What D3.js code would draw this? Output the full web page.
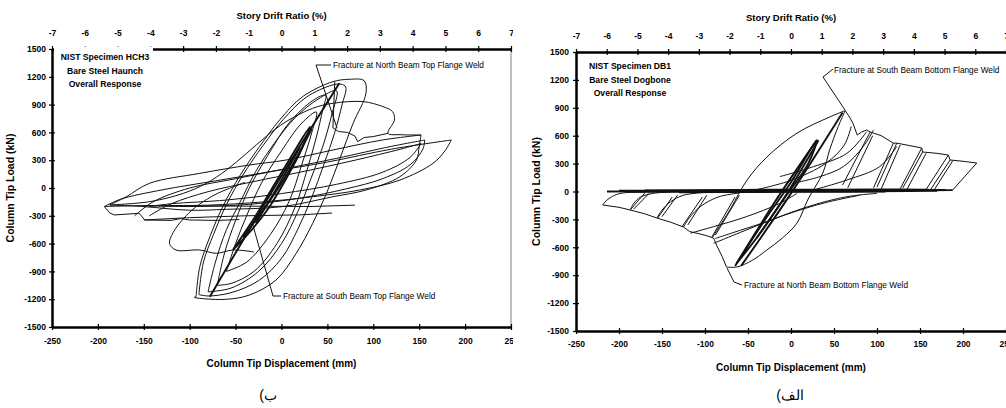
<!DOCTYPE html>
<html><head><meta charset="utf-8">
<script src="https://cdn.jsdelivr.net/npm/d3@7"></script>
<style>
html,body{margin:0;padding:0;background:#fff;}
svg{display:block;}
text{font-family:"Liberation Sans",Arial,sans-serif;fill:#000;}
</style></head><body>
<svg id="c" width="1006" height="408"></svg>
<script>
// ---------- shared axis data ----------
const dispTicks = [-250,-200,-150,-100,-50,0,50,100,150,200,250];
const loadTicks = [1500,1200,900,600,300,0,-300,-600,-900,-1200,-1500];
const driftTicks = [-7,-6,-5,-4,-3,-2,-1,0,1,2,3,4,5,6,7];
const titleTop = "Story Drift Ratio (%)";
const titleX = "Column Tip Displacement (mm)";
const titleY = "Column Tip Load (kN)";

// ---------- HCH3 (left) : [displacement mm, load kN] ----------
const hch3Info = ["NIST Specimen HCH3","Bare Steel Haunch","Overall Response"];
const hch3NoteTop = "Fracture at North Beam Top Flange Weld";
const hch3NoteBot = "Fracture at South Beam Top Flange Weld";
const hch3Caption = "(ب";
const hch3Big1 = [[-93,-1173],[-89,-849],[-78,-525],[-64,-201],[-46,122],[-24,446],[-2,734],[23,986],[56,1147],[74,1173],[90,1158],[92,1022],[78,698],[63,302],[49,-58],[34,-381],[16,-705],[-6,-993],[-35,-1155],[-60,-1201],[-89,-1191],[-95,-1180],[-93,-1173]];
const hch3Big2 = [[-90,-1150],[-85,-800],[-74,-500],[-60,-180],[-42,140],[-20,460],[2,740],[27,980],[55,1110],[65,1120],[70,1090],[66,900],[58,600],[46,250],[33,-100],[18,-440],[0,-760],[-25,-1000],[-55,-1130],[-80,-1165],[-90,-1150]];
const hch3Big3 = [[-80,-1120],[-72,-800],[-60,-450],[-45,-150],[-28,180],[-8,480],[15,760],[40,960],[60,1050],[55,800],[45,450],[32,100],[18,-250],[0,-600],[-25,-900],[-55,-1080],[-80,-1120]];
const hch3Mid1 = [[-70,-1050],[-62,-700],[-50,-350],[-35,0],[-15,350],[8,700],[35,950],[48,1000],[45,850],[38,550],[28,200],[15,-200],[-5,-600],[-30,-900],[-55,-1030],[-70,-1050]];
const hch3Mid2 = [[-60,-900],[-50,-600],[-38,-300],[-22,50],[0,400],[22,700],[38,820],[33,600],[22,250],[8,-150],[-12,-500],[-38,-800],[-60,-900]];
const hch3Frac = [[58,1145],[57,900],[56,650],[62,610],[72,600],[80,560],[83,500],[90,545],[100,555],[116,590]];
const hch3Reload = [[-187,-183],[-144,-148],[-107,-58],[-82,50],[-60,194],[-38,374],[-17,554],[5,716],[34,860],[56,914],[89,932],[110,880],[121,824],[123,734],[116,590],[130,575],[152,572]];
const hch3Up1 = [[-187,-183],[-169,-94],[-144,50],[-89,158],[-35,248],[5,302],[56,410],[110,518],[152,572]];
const hch3Up2 = [[-160,-300],[-140,-150],[-100,0],[-50,100],[0,200],[60,320],[120,450],[156,518]];
const hch3Up3 = [[-193,-200],[-175,-120],[-130,-20],[-70,80],[-10,180],[50,280],[120,420],[185,518]];
const hch3Up4 = [[-144,-300],[-120,-170],[-80,-40],[-30,70],[20,170],[80,300],[130,420],[152,480]];
const hch3Dn1 = [[152,572],[150,450],[147,302],[129,122],[92,-22],[56,-94],[1,-201],[-60,-230],[-100,-240],[-151,-200],[-187,-183]];
const hch3Dn2 = [[156,518],[154,420],[140,250],[110,100],[70,-10],[20,-110],[-40,-180],[-100,-200],[-150,-190]];
const hch3Dn3 = [[185,518],[178,400],[165,266],[129,86],[85,-22],[34,-94],[-20,-150],[-80,-185],[-151,-190],[-193,-200]];
const hch3Dn4 = [[152,480],[140,330],[110,170],[60,40],[0,-60],[-60,-130],[-120,-170],[-144,-200]];
const hch3Flat1 = [[-151,-190],[-50,-195],[30,-200],[80,-185]];
const hch3Flat2 = [[-150,-345],[-100,-320],[-40,-300],[20,-290],[55,-270]];
const hch3Wave1 = [[-193,-200],[-187,-270],[-182,-291],[-155,-273],[-149,-345],[-120,-350],[-110,-330],[-100,-345],[-70,-350],[-46,-340]];
const hch3Wave2 = [[-30,-690],[-53,-669],[-71,-705],[-89,-669],[-115,-669],[-122,-600],[-118,-480],[-104,-300],[-90,-180],[-70,-60],[-40,60]];
const hch3Thick1 = [[-78,-1173],[-8,0],[63,1130]];
const hch3Thick2 = [[-53,-669],[-30,-330],[-10,0],[10,330],[31,660],[22,420],[5,100],[-15,-230],[-35,-480],[-53,-669]];
const hch3Thick3 = [[-42,-530],[0,50],[33,640]];
const hch3Thick4 = [[-28,-380],[-5,0],[20,440]];

// ---------- DB1 (right) ----------
const db1Info = ["NIST Specimen DB1","Bare Steel Dogbone","Overall Response"];
const db1NoteTop = "Fracture at South Beam Bottom Flange Weld";
const db1NoteBot = "Fracture at North Beam Bottom Flange Weld";
const db1Caption = "(الف";
const db1Band1 = [[-214,0],[-150,2],[-80,4],[0,6],[80,8],[150,10],[188,14]];
const db1Band2 = [[-200,8],[-120,10],[-40,12],[40,14],[120,16],[180,18]];
const db1Band3 = [[-190,-5],[-100,-3],[-20,0],[60,2],[140,5],[170,8]];
const db1Band4 = [[-170,12],[-60,18],[20,20],[100,22],[160,20]];
const db1Band5 = [[-130,-8],[-50,-6],[30,-4],[110,0]];
const db1UpperS = [[-91,-489],[-80,-330],[-70,-180],[-51,124],[-28,371],[7,628],[45,801],[63,870]];
const db1LowerS = [[63,870],[55,700],[45,450],[37,199],[20,-80],[7,-339],[-10,-500],[-28,-629],[-45,-740],[-63,-812],[-75,-812]];
const db1PosEnv = [[63,870],[68,800],[72,735],[77,607],[82,640],[88,661],[92,640],[105,600],[119,520],[123,520],[137,495],[152,468],[153,425],[170,410],[183,392],[185,339],[200,325],[216,306]];
const db1NegEnv = [[-75,-812],[-80,-700],[-86,-588],[-90,-500],[-100,-470],[-118,-430],[-125,-382],[-140,-330],[-156,-285],[-170,-240],[-187,-199],[-200,-170],[-219,-145]];
const db1PosTeeth = [
  [[60,70],[92,640]],[[66,40],[95,600]],[[119,520],[96,40]],
  [[100,48],[123,520]],[[105,30],[127,500]],[[152,468],[127,30]],
  [[130,38],[153,425]],[[135,25],[157,410]],[[183,392],[157,20]],
  [[162,16],[185,339]],[[166,10],[188,330]],[[216,306],[188,16]]
];
const db1NegTeeth = [
  [[-187,-199],[-170,-16]],[[-183,-190],[-165,-20]],
  [[-155,-285],[-138,-59]],[[-150,-270],[-132,-40]],
  [[-127,-382],[-103,-59]],[[-120,-360],[-98,-40]],
  [[-92,-489],[-65,-59]],[[-88,-470],[-60,-40]]
];
const db1NegRound = [
  [[-219,-145],[-215,-100],[-205,-40],[-195,-15],[-170,-5]],
  [[-187,-199],[-183,-130],[-175,-60],[-160,-20],[-140,-5]],
  [[-156,-285],[-150,-200],[-140,-110],[-125,-40],[-100,-10]],
  [[-125,-382],[-118,-280],[-105,-160],[-85,-60],[-60,-15]]
];
const db1LowCurves = [
  [[-90,-557],[-52,-414],[-13,-270],[26,-145],[65,-56],[100,-20]],
  [[-88,-505],[-60,-420],[-30,-330],[0,-230],[40,-120],[80,-40]],
  [[-117,-448],[-90,-378],[-52,-271],[-13,-127],[7,-20]]
];
const db1UpCurves = [
  [[3,89],[34,161],[61,268],[84,483],[96,662]],
  [[26,16],[65,124],[103,267],[123,484]],
  [[-13,160],[26,267],[65,410],[88,643]],
  [[-40,20],[0,120],[40,300],[62,500],[70,700]]
];
const db1Thick1 = [[-65,-800],[-20,-130],[30,552]];
const db1Thick2 = [[-63,-770],[-30,-300],[0,100],[30,553],[20,300],[-10,-100],[-40,-500],[-63,-770]];
const db1Thick3 = [[-58,-800],[0,-20],[60,850]];
const db1Thick4 = [[-40,-500],[-10,-100],[32,552]];

// ---------- drawing ----------
const svg = d3.select("#c");
svg.append("rect").attr("width",1006).attr("height",408).attr("fill","#fff");
const fmt = d => String(d);

function panel(cfg){
  const g = svg.append("g");
  if (cfg.clip){
    svg.append("clipPath").attr("id",cfg.id).append("rect")
      .attr("x",0).attr("y",0).attr("width",cfg.clip).attr("height",408);
    g.attr("clip-path",`url(#${cfg.id})`);
  }
  const x = d3.scaleLinear().domain([-250,250]).range([cfg.x0,cfg.x1]);
  const y = d3.scaleLinear().domain([-1500,1500]).range([cfg.y1,cfg.y0]);
  const xd = d3.scaleLinear().domain([-7,7]).range([cfg.x0,cfg.x1]);

  const smooth = d3.line().x(d=>x(d[0])).y(d=>y(d[1])).curve(d3.curveCatmullRom.alpha(0.5));
  const sharp = d3.line().x(d=>x(d[0])).y(d=>y(d[1]));
  const plot = g.append("g");
  function draw(arrs, gen, w){
    arrs.forEach(a=>plot.append("path").attr("d",gen(a)).attr("fill","none")
      .attr("stroke","#111").attr("stroke-width",w).attr("stroke-linejoin","round"));
  }
  cfg.plot(draw, smooth, sharp);

  if (cfg.border) g.append("line").attr("x1",cfg.x1).attr("x2",cfg.x1).attr("y1",cfg.y0-1).attr("y2",cfg.y1+1)
      .attr("stroke","#aaa").attr("stroke-width",1.5);

  const fs = "8.5px";
  const ax = (sel)=>{ sel.select(".domain").attr("stroke","#000").attr("stroke-width",2);
    sel.selectAll(".tick line").attr("stroke","#000").attr("stroke-width",1.2);
    sel.selectAll("text").attr("font-size",fs).attr("font-weight","bold").attr("font-family","Liberation Sans, Arial, sans-serif"); };
  g.append("g").attr("transform",`translate(0,${cfg.y0})`)
    .call(d3.axisTop(xd).tickValues(driftTicks).tickFormat(fmt).tickSize(3).tickPadding(cfg.topPad).tickSizeOuter(0)).call(ax);
  g.append("g").attr("transform",`translate(0,${cfg.y0})`)
    .call(d3.axisBottom(xd).tickValues(driftTicks).tickSize(3).tickFormat("").tickSizeOuter(0)).call(ax);
  g.append("g").attr("transform",`translate(${cfg.x0},0)`)
    .call(d3.axisLeft(y).tickValues(loadTicks).tickFormat(fmt).tickSize(3).tickPadding(cfg.leftPad).tickSizeOuter(0)).call(ax);
  g.append("g").attr("transform",`translate(${cfg.x0},0)`)
    .call(d3.axisRight(y).tickValues(loadTicks).tickSize(3).tickFormat("").tickSizeOuter(0)).call(ax);
  g.append("g").attr("transform",`translate(0,${cfg.y1})`)
    .call(d3.axisBottom(x).tickValues(dispTicks).tickFormat(fmt).tickSize(3).tickPadding(cfg.botPad).tickSizeOuter(0)).call(ax);
  g.append("g").attr("transform",`translate(0,${cfg.y1})`)
    .call(d3.axisTop(x).tickValues(dispTicks).tickSize(3).tickFormat("").tickSizeOuter(0)).call(ax);

  if (cfg.infoBox){
    g.append("rect").attr("x",cfg.infoBox[0]).attr("y",cfg.infoBox[1]).attr("width",cfg.infoBox[2]).attr("height",cfg.infoBox[3]).attr("fill","#fff");
  }
  cfg.info.forEach((t,i)=>g.append("text").attr("x",cfg.infoX).attr("y",cfg.infoY+i*13.5)
    .attr("text-anchor","middle").attr("font-size","8.6px").attr("font-weight","bold").text(t));

  g.append("text").attr("x",x(0)).attr("y",cfg.titleTopY).attr("text-anchor","middle")
    .attr("font-size","9.5px").attr("font-weight","bold").text(titleTop);
  g.append("text").attr("x",x(0)).attr("y",cfg.titleXY).attr("text-anchor","middle")
    .attr("font-size","10px").attr("font-weight","bold").text(titleX);
  g.append("text").attr("transform",`translate(${cfg.titleYX},${y(0)}) rotate(-90)`).attr("text-anchor","middle")
    .attr("font-size","10.5px").attr("font-weight","bold").text(titleY);

  cfg.notes.forEach(n=>{
    g.append("path").attr("d",d3.line()(n.leader)).attr("fill","none").attr("stroke","#111").attr("stroke-width",1);
    g.append("text").attr("x",n.x).attr("y",n.y).attr("font-size","8.3px").text(n.t);
  });

  svg.append("text").attr("x",cfg.capX).attr("y",cfg.capY).attr("text-anchor","middle")
    .attr("font-family","DejaVu Sans, sans-serif").attr("font-size","14px").text(cfg.caption);
}

panel({
  id:"clipL", clip:513, x0:52, x1:511, y0:49, y1:327, border:true,
  topPad:10, leftPad:3, botPad:8,
  infoBox:[54,46.5,99,44], info:hch3Info, infoX:105, infoY:60,
  titleTopY:19, titleXY:367, titleYX:14,
  notes:[
    {t:hch3NoteTop, x:333, y:68, leader:[[331,65],[316,65],[337,128]]},
    {t:hch3NoteBot, x:283, y:299, leader:[[281,296],[273,296],[252,222]]}
  ],
  caption:hch3Caption, capX:268, capY:400,
  plot:(draw,smooth,sharp)=>{
    draw([hch3Big1,hch3Big2,hch3Big3,hch3Mid1,hch3Mid2,hch3Reload,hch3Up1,hch3Up2,hch3Up3,hch3Up4,hch3Dn1,hch3Dn2,hch3Dn3,hch3Dn4,hch3Wave2],smooth,1);
    draw([hch3Frac,hch3Flat1,hch3Flat2,hch3Wave1],sharp,1);
    draw([hch3Thick1,hch3Thick2,hch3Thick3,hch3Thick4],smooth,1.9);
  }
});

panel({
  id:"clipR", clip:null, x0:576, x1:1006, y0:52, y1:331, border:false,
  topPad:10, leftPad:4, botPad:7,
  infoBox:null, info:db1Info, infoX:630, infoY:69,
  titleTopY:21, titleXY:371, titleYX:540,
  notes:[
    {t:db1NoteTop, x:834, y:73, leader:[[833,69],[823,77],[845,110]]},
    {t:db1NoteBot, x:744, y:288, leader:[[742,285],[734,282],[727,268]]}
  ],
  caption:db1Caption, capX:790, capY:400,
  plot:(draw,smooth,sharp)=>{
    draw([db1Band1,db1Band2,db1Band3,db1Band4,db1Band5],smooth,1.8);
    draw([db1UpperS,db1LowerS,...db1NegRound,...db1LowCurves,...db1UpCurves],smooth,1);
    draw([db1PosEnv,db1NegEnv,...db1PosTeeth,...db1NegTeeth],sharp,1);
    draw([db1Thick1,db1Thick2,db1Thick3,db1Thick4],smooth,1.9);
  }
});
</script>
</body></html>
